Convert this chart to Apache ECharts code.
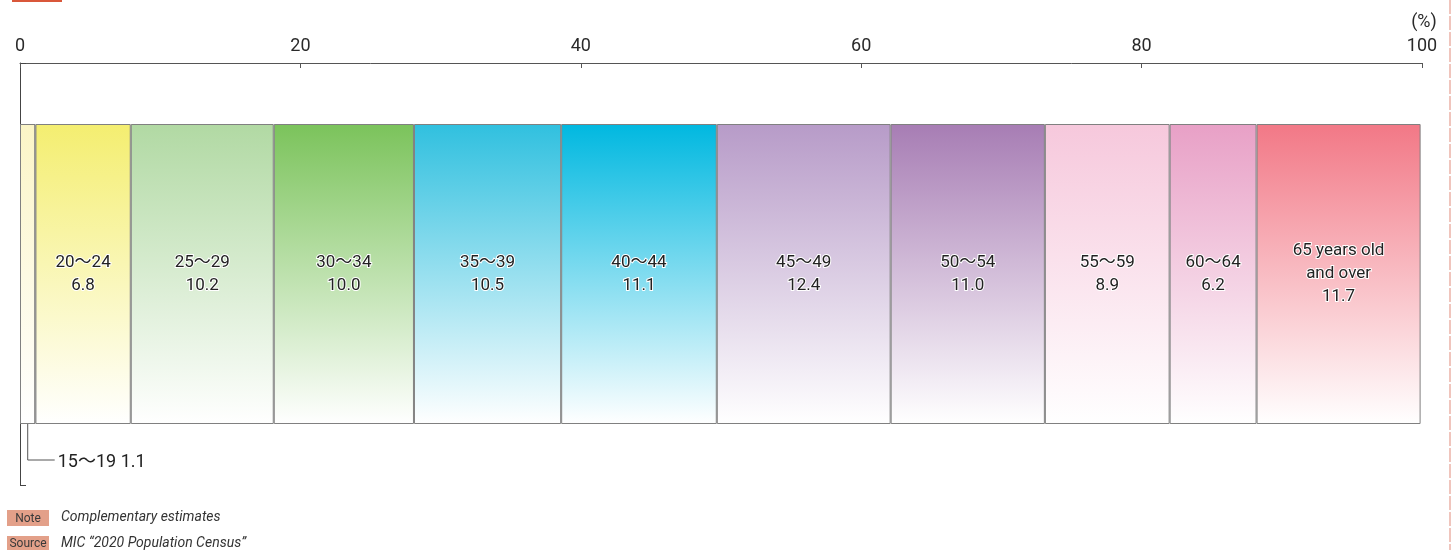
<!DOCTYPE html>
<html>
<head>
<meta charset="utf-8">
<script src="https://cdn.jsdelivr.net/npm/echarts@6/dist/echarts.min.js"></script>
<style>
html,body{margin:0;padding:0;background:#fff;}
#c{width:1452px;height:550px;}
</style>
</head>
<body>
<div id="c"></div>
<script>
const groups = ['15〜19','20〜24','25〜29','30〜34','35〜39','40〜44','45〜49','50〜54','55〜59','60〜64','65 years old\nand over'];
const shares = [1.1, 6.8, 10.2, 10.0, 10.5, 11.1, 12.4, 11.0, 8.9, 6.2, 11.7];
const topColors = ['#fbf5c6','#f4ee70','#b1d9a3','#7bc35b','#30c0df','#00b8e0','#b79bc8','#a77db4','#f6c8dc','#e8a0c6','#f27886'];
const xTicks = [0, 20, 40, 60, 80, 100];
const noteText = 'Complementary estimates';
const sourceText = 'MIC “2020 Population Census”';

const FONT = "'Roboto','Noto Sans CJK JP',sans-serif";
const chart = echarts.init(document.getElementById('c'), null, {renderer:'canvas'});

const series = groups.map((g, i) => ({
  type: 'bar',
  name: g,
  stack: 'total',
  barWidth: 300,
  data: [shares[i]],
  itemStyle: {
    color: new echarts.graphic.LinearGradient(0, 0, 0, 1, [
      {offset: 0, color: topColors[i]},
      {offset: 1, color: '#ffffff'}
    ]),
    borderColor: '#808080',
    borderWidth: 1
  },
  label: {
    show: i !== 0,
    position: 'inside',
    formatter: () => g + '\n' + shares[i].toFixed(1),
    fontFamily: FONT,
    fontSize: 17,
    lineHeight: 23,
    color: '#222222',
    textBorderColor: '#ffffff',
    textBorderWidth: 2,
    align: 'center'
  },
  emphasis: {disabled: true},
  animation: false
}));

chart.setOption({
  animation: false,
  grid: {left: 20, right: 30, top: 63, bottom: 65, containLabel: false},
  xAxis: {
    type: 'value',
    position: 'top',
    min: xTicks[0],
    max: xTicks[xTicks.length - 1],
    interval: 20,
    axisLine: {show: true, lineStyle: {color: '#555', width: 1}},
    axisTick: {show: true, inside: true, length: 5, lineStyle: {color: '#555'}},
    axisLabel: {fontFamily: FONT, fontSize: 18, color: '#2a2a2a', margin: 8},
    splitLine: {show: false}
  },
  yAxis: {
    type: 'category',
    data: ['total'],
    axisLine: {show: true, lineStyle: {color: '#444', width: 1}},
    axisTick: {show: true, inside: true, length: 6, lineStyle: {color: '#444'}},
    axisLabel: {show: false}
  },
  series: series
});

// annotation geometry from the chart's own scales
const cy = chart.convertToPixel({yAxisIndex: 0}, 'total');
const barBottom = cy + 150;
const firstMidX = chart.convertToPixel({xAxisIndex: 0}, shares[0] / 2);
const x100 = chart.convertToPixel({xAxisIndex: 0}, 100);
const leaderY = barBottom + 36;

chart.setOption({
  graphic: [
    {type: 'rect', shape: {x: 12, y: 0, width: 50, height: 2}, style: {fill: '#d9573a'}},
    {type: 'line', shape: {x1: 1450, y1: 0, x2: 1450, y2: 550}, style: {stroke: '#ebb3a8', lineWidth: 1.5, lineDash: [14, 2]}},
    {type: 'text', x: x100 + 2, y: 22, style: {text: '(%)', font: '18px ' + FONT, fill: '#2a2a2a', align: 'center', verticalAlign: 'middle'}},
    {type: 'polyline', shape: {points: [[firstMidX, barBottom], [firstMidX, leaderY], [firstMidX + 27, leaderY]]}, style: {stroke: '#555', lineWidth: 1, fill: null}},
    {type: 'text', x: firstMidX + 30, y: leaderY + 2, style: {text: groups[0] + ' ' + shares[0].toFixed(1), font: '18px ' + FONT, fill: '#222', verticalAlign: 'middle'}},
    {type: 'rect', shape: {x: 7, y: 510, width: 42, height: 16}, style: {fill: '#e3a089'}},
    {type: 'text', x: 28, y: 518.5, style: {text: 'Note', font: '12px ' + FONT, fill: '#3a3a3a', align: 'center', verticalAlign: 'middle'}},
    {type: 'text', x: 61, y: 517, style: {text: noteText, font: 'italic 14px ' + FONT, fill: '#333', verticalAlign: 'middle'}},
    {type: 'rect', shape: {x: 7, y: 536, width: 42, height: 16}, style: {fill: '#e3a089'}},
    {type: 'text', x: 28, y: 544, style: {text: 'Source', font: '12px ' + FONT, fill: '#3a3a3a', align: 'center', verticalAlign: 'middle'}},
    {type: 'text', x: 61, y: 543, style: {text: sourceText, font: 'italic 14px ' + FONT, fill: '#333', verticalAlign: 'middle'}}
  ]
});
</script>
</body>
</html>
